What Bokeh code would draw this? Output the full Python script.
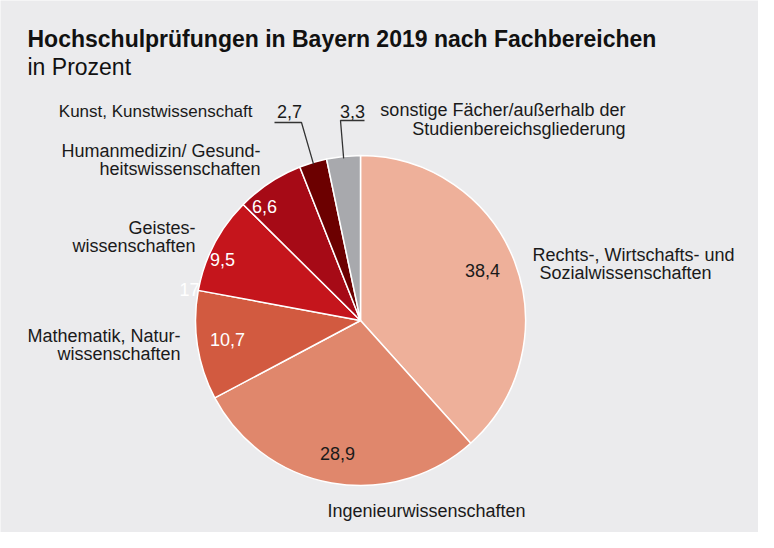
import math
from bokeh.plotting import figure
from bokeh.models import Range1d, ColumnDataSource
from bokeh.core.properties import value
from bokeh.embed import file_html
from bokeh.resources import INLINE

# ---------------- data ----------------
categories = [
    "Rechts-, Wirtschafts- und Sozialwissenschaften",
    "Ingenieurwissenschaften",
    "Mathematik, Naturwissenschaften",
    "Geisteswissenschaften",
    "Humanmedizin/ Gesundheitswissenschaften",
    "Kunst, Kunstwissenschaft",
    "sonstige Fächer/außerhalb der Studienbereichsgliederung",
]
values = [38.4, 28.9, 10.7, 9.5, 6.6, 2.7, 3.3]
value_labels = ["38,4", "28,9", "10,7", "9,5", "6,6", "2,7", "3,3"]
colors = ["#EEB09A", "#E0876C", "#D25A40", "#C5151C", "#A60A16", "#6C0000", "#A8A9AD"]
title_text = "Hochschulprüfungen in Bayern 2019 nach Fachbereichen"
subtitle_text = "in Prozent"

# ---------------- layout ----------------
W, H = 758, 532
FONT = "Liberation Sans"
BG = "#EBEBED"
TXT = "#1A1A1A"
TEXT_DY = -7  # correction for text baseline placement

def Y(img_y):
    # convert page pixel y (from top of window) to data y
    return 548 - img_y

p = figure(width=W, height=H, output_backend="svg", toolbar_location=None,
           x_range=Range1d(8, 8 + W), y_range=Range1d(8, 8 + H),
           min_border=0, background_fill_color=BG, border_fill_color=BG)
p.axis.visible = False
p.grid.visible = False
p.outline_line_color = None

cx, cy, r = 368, Y(328), 165
total = sum(values)
starts, ends, mids = [], [], []
cum = 0.0
for v in values:
    a0 = math.pi / 2 - 2 * math.pi * cum / total
    cum += v
    a1 = math.pi / 2 - 2 * math.pi * cum / total
    starts.append(a0)
    ends.append(a1)
    mids.append((a0 + a1) / 2)

src = ColumnDataSource(dict(start=starts, end=ends, color=colors, cat=categories, val=values))
p.wedge(x=cx, y=cy, radius=r, start_angle="start", end_angle="end", direction="clock",
        fill_color="color", line_color="white", line_width=1.5, source=src)

def txt(x, y, s, align="left", color=TXT, size="18px", style="normal"):
    p.text(x=[x], y=[Y(y + TEXT_DY)], text=[s], text_align=align, text_baseline="alphabetic",
           text_color=color, text_font=value(FONT), text_font_size=size,
           text_font_style=style)

# title
txt(35, 53, title_text, size="23px", style="bold", color="#111111")
txt(35, 81, subtitle_text, size="23px", color="#111111")

# value labels inside slices
inner = [(490, 285, TXT), (345, 468, TXT), (235, 354, "white"), (230, 274, "white"), (272, 221, "white")]
for (x, y, c), lab in zip(inner, value_labels[:5]):
    txt(x, y, lab, align="center", color=c)

# stray white label at the left
txt(187, 304, "17", color="white")

# outside labels with leader lines
txt(297, 126, value_labels[5], align="center")
txt(360, 126, value_labels[6], align="center")
e5 = (cx + (r - 2) * math.cos(mids[5]), cy + (r - 2) * math.sin(mids[5]))
e6 = (cx + (r - 2) * math.cos(mids[6]), cy + (r - 2) * math.sin(mids[6]))
p.line(x=[282, 309, e5[0]], y=[Y(130), Y(130), e5[1]], line_color="#333333", line_width=1.3)
p.line(x=[372, 348, e6[0]], y=[Y(128), Y(128), e6[1]], line_color="#333333", line_width=1.3)

# category labels
txt(540, 269, "Rechts-, Wirtschafts- und")
txt(547, 287, "Sozialwissenschaften")
txt(434, 525, "Ingenieurwissenschaften", align="center")
txt(188, 350, "Mathematik, Natur-", align="right")
txt(188, 368, "wissenschaften", align="right")
txt(203, 242, "Geistes-", align="right")
txt(203, 260, "wissenschaften", align="right")
txt(268, 165, "Humanmedizin/ Gesund-", align="right")
txt(268, 183, "heitswissenschaften", align="right")
txt(260, 126, "Kunst, Kunstwissenschaft", align="right", size="17px")
txt(633, 124, "sonstige Fächer/außerhalb der", align="right")
txt(633, 143, "Studienbereichsgliederung", align="right")

open("out.html", "w").write(file_html(p, INLINE))
